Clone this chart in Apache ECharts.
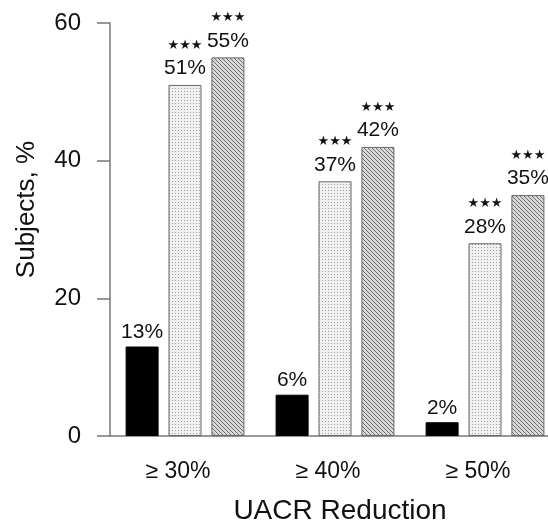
<!DOCTYPE html>
<html>
<head>
<meta charset="utf-8">
<script src="https://cdn.jsdelivr.net/npm/echarts@6/dist/echarts.min.js"></script>
<style>
  html, body { margin: 0; padding: 0; background: #fff; }
  #chart { width: 548px; height: 522px; }
</style>
</head>
<body>
<div id="chart"></div>
<script>
// Share of subjects reaching each UACR reduction threshold
const categories = ['\u2265 30%', '\u2265 40%', '\u2265 50%'];
const controlValues = [13, 6, 2];
const lowDoseValues = [51, 37, 28];
const highDoseValues = [55, 42, 35];
const lowDoseSig = ['***', '***', '***'];
const highDoseSig = ['***', '***', '***'];
const yTicks = [0, 20, 40, 60];

const FONT = '"Liberation Sans", Arial, Helvetica, sans-serif';

// Small repeating tiles used as bar fills
function makeTile(size, bg, fg, pixels) {
  const c = document.createElement('canvas');
  c.width = size; c.height = size;
  const ctx = c.getContext('2d');
  ctx.fillStyle = bg;
  ctx.fillRect(0, 0, size, size);
  ctx.fillStyle = fg;
  pixels.forEach(function (p) { ctx.fillRect(p[0], p[1], 1, 1); });
  return c;
}
const dotTile = makeTile(3, '#f0f0f0', '#a0a0a0', [[1, 1]]);
const hatchTile = makeTile(4, '#d8d8d8', '#707070', [[0, 0], [1, 1], [2, 2], [3, 3]]);

// Significance markers drawn as solid stars
function starText(s) { return s.replace(/\*/g, '\u2605'); }

function sigLabel(sig) {
  return {
    show: true,
    position: 'top',
    distance: 5,
    formatter: function (p) {
      return '{s|' + starText(sig[p.dataIndex]) + '}\n{v|' + p.value + '%}';
    },
    rich: {
      s: { fontSize: 13, lineHeight: 23, color: '#111', fontFamily: 'DejaVu Sans, sans-serif' },
      v: { fontSize: 21, lineHeight: 23, color: '#111', fontFamily: FONT }
    }
  };
}

const chart = echarts.init(document.getElementById('chart'), null, { renderer: 'canvas' });

chart.setOption({
  animation: false,
  backgroundColor: '#fff',
  // the plot runs slightly past the right edge of the canvas
  grid: { left: 110, width: 450, top: 23, bottom: 86, containLabel: false, outerBoundsMode: 'none' },
  xAxis: {
    type: 'category',
    data: categories,
    axisLine: { show: true, lineStyle: { color: '#777', width: 1.5 } },
    axisTick: { show: false },
    axisLabel: {
      color: '#111', fontSize: 23, fontFamily: FONT, margin: 24,
      padding: [0, 14, 0, 0]
    },
    name: 'UACR Reduction',
    nameLocation: 'middle',
    nameGap: 61,
    nameTextStyle: { color: '#111', fontSize: 28, fontFamily: FONT, padding: [0, 0, 0, 10] }
  },
  yAxis: {
    type: 'value',
    min: yTicks[0],
    max: yTicks[yTicks.length - 1],
    interval: 20,
    splitLine: { show: false },
    axisLine: { show: true, lineStyle: { color: '#777', width: 1.5 } },
    axisTick: { show: true, length: 13, lineStyle: { color: '#777', width: 1.5 } },
    axisLabel: { color: '#111', fontSize: 24, fontFamily: FONT, margin: 29 },
    name: 'Subjects, %',
    nameLocation: 'middle',
    nameGap: 70,
    nameTextStyle: { color: '#111', fontSize: 26, fontFamily: FONT, padding: [0, 0, 0, 40] }
  },
  series: [
    {
      name: 'Control',
      type: 'bar',
      data: controlValues,
      barWidth: 33,
      barGap: '30%',
      itemStyle: { color: '#000', borderColor: '#000', borderWidth: 1 },
      label: {
        show: true, position: 'top', distance: 4,
        formatter: '{c}%',
        color: '#111', fontSize: 21, fontFamily: FONT
      }
    },
    {
      name: 'Low dose',
      type: 'bar',
      data: lowDoseValues,
      barWidth: 33,
      barGap: '30%',
      itemStyle: { color: { image: dotTile, repeat: 'repeat' }, borderColor: '#666', borderWidth: 1 },
      label: sigLabel(lowDoseSig)
    },
    {
      name: 'High dose',
      type: 'bar',
      data: highDoseValues,
      barWidth: 33,
      barGap: '30%',
      itemStyle: { color: { image: hatchTile, repeat: 'repeat' }, borderColor: '#666', borderWidth: 1 },
      label: sigLabel(highDoseSig)
    }
  ]
});
</script>
</body>
</html>
